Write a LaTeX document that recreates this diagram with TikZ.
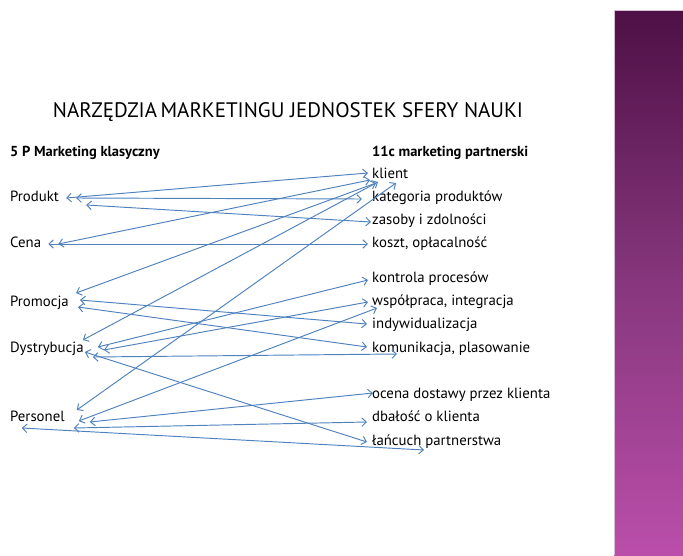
\documentclass[tikz,border=0pt]{standalone}
\usepackage{fontspec}
\setmainfont{PT Sans}
\usetikzlibrary{arrows.meta}
\definecolor{edge_blue}{RGB}{79,129,189}
\definecolor{bar_top}{RGB}{78,16,70}
\definecolor{bar_mid}{RGB}{135,55,125}
\definecolor{bar_bot}{RGB}{186,78,170}
\definecolor{bar_rim}{RGB}{215,190,210}
\begin{document}
\begin{tikzpicture}[x=1pt,y=-1pt,>={Straight Barb[length=4.5pt,width=8.5pt]}]
    \tikzstyle{label}=[text=black,inner sep=0pt,anchor=west,font=\fontsize{14.8}{17}\selectfont,text height=11pt,text depth=3.5pt]
    \tikzstyle{head}=[style=label,font=\fontsize{14.5}{17}\selectfont\bfseries]
    \tikzstyle{title}=[text=black,inner sep=0pt,font=\fontsize{21}{25}\selectfont]
    \tikzstyle{link}=[<->,edge_blue,line width=0.95pt]

    \useasboundingbox (0,0) rectangle (683,555);

    % purple side bar
    \shade[top color=bar_top,bottom color=bar_bot,middle color=bar_mid] (614,10) rectangle (683,555);
    \draw[bar_rim,line width=1pt] (614.5,555) -- (614.5,10.5) -- (683,10.5);

    \node[title] (T) at (288,112) {NARZĘDZIA\,MARKETINGU JEDNOSTEK SFERY NAUKI};
    \node[head]  (H1) at (10,153)  {5 P Marketing klasyczny};
    \node[head]  (H2) at (372,153) {11c marketing partnerski};

    % 5 P
    \node[label] (prod) at (10,198) {Produkt};
    \node[label] (cena) at (10,244) {Cena};
    \node[label] (prom) at (10,303) {Promocja};
    \node[label] (dyst) at (10,349) {Dystrybucja};
    \node[label] (pers) at (10,418) {Personel};

    % 11 C
    \node[label] (kli)  at (372,175) {klient};
    \node[label] (kat)  at (372,198) {kategoria produktów};
    \node[label] (zas)  at (372,221) {zasoby i zdolności};
    \node[label] (kosz) at (372,244) {koszt, opłacalność};
    \node[label] (kont) at (372,279) {kontrola procesów};
    \node[label] (wsp)  at (372,302) {współpraca, integracja};
    \node[label] (ind)  at (372,325) {indywidualizacja};
    \node[label] (kom)  at (372,349) {komunikacja, plasowanie};
    \node[label] (oce)  at (372,395) {ocena dostawy przez klienta};
    \node[label] (dba)  at (372,418) {dbałość o klienta};
    \node[label] (lan)  at (372,442) {łańcuch partnerstwa};

    \path[link]
     ([shift={(7,0)}]prod.east)   edge ([shift={(-4,-2)}]kli.west)
     ([shift={(17,0)}]prod.east)  edge ([shift={(-10,1)}]kat.west)
     ([shift={(27,7)}]prod.east)  edge ([shift={(-1,1)}]zas.west)
     ([shift={(17,0)}]cena.east)  edge ([shift={(-2,5)}]kli.west)
     ([shift={(7,0)}]cena.east)   edge ([shift={(-4,0)}]kosz.west)
     ([shift={(7,-10)}]prom.east) edge ([shift={(4,8)}]kli.west)
     ([shift={(11,-3)}]prom.east) edge ([shift={(-5,-1)}]ind.west)
     ([shift={(9,4)}]prom.east)   edge ([shift={(-5,-2)}]kom.west)
     ([shift={(-1,-9)}]dyst.east) edge ([shift={(6,7)}]kli.west)
     ([shift={(14,-2)}]dyst.east) edge ([shift={(-4,1)}]kont.west)
     ([shift={(20,1)}]dyst.east)  edge ([shift={(-4,0)}]wsp.west)
     ([shift={(9,8)}]dyst.east)   edge ([shift={(25,5)}]kom.west)
     ([shift={(1,3)}]dyst.east)   edge ([shift={(-5,0)}]lan.west)
     ([shift={(12,-8)}]pers.east) edge ([shift={(24,8)}]kli.west)
     ([shift={(14,3)}]pers.east)  edge ([shift={(5,6)}]wsp.west)
     ([shift={(25,4)}]pers.east)  edge ([shift={(1,-2)}]oce.west)
     ([shift={(9,10)}]pers.east)  edge ([shift={(-5,4)}]dba.west)
     ([shift={(-43,10)}]pers.east) edge ([shift={(52,8)}]lan.west);
\end{tikzpicture}
\end{document}
